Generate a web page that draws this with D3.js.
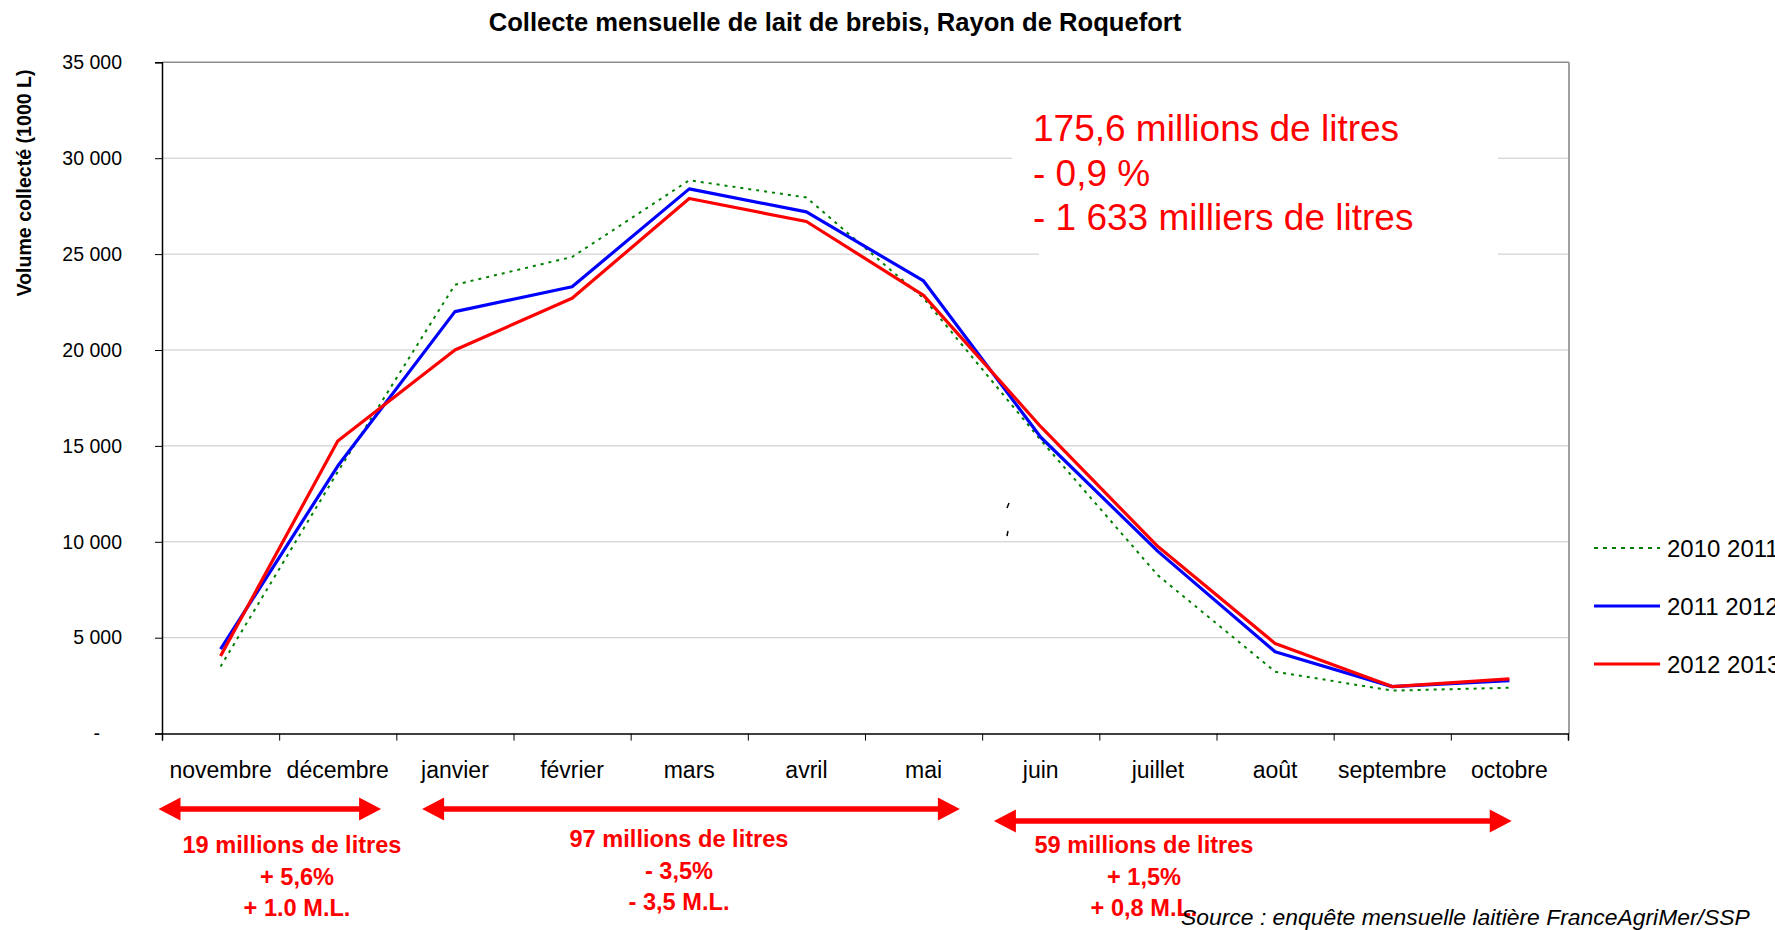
<!DOCTYPE html>
<html>
<head>
<meta charset="utf-8">
<script src="https://cdn.jsdelivr.net/npm/d3@7"></script>
<style>
  html, body { margin: 0; padding: 0; background: #fff; overflow: hidden; }
  text { font-family: "Liberation Sans", Arial, sans-serif; }
</style>
</head>
<body>
<div id="container"></div>
<script>
"use strict";

const months = ["novembre", "décembre", "janvier", "février", "mars", "avril",
  "mai", "juin", "juillet", "août", "septembre", "octobre"];
const seriesNames = ["2010 2011", "2011 2012", "2012 2013"];
const values2010 = [3500, 13650, 23400, 24850, 28850, 27950, 22700, 15300, 8250, 3230, 2240, 2390];
const values2011 = [4400, 13950, 22000, 23300, 28400, 27200, 23600, 15450, 9500, 4270, 2450, 2760];
const values2012 = [4050, 15250, 20000, 22700, 27900, 26700, 22850, 16000, 9750, 4700, 2450, 2850];
const yTicks = [0, 5000, 10000, 15000, 20000, 25000, 30000, 35000];
const yTickLabels = ["-", "5 000", "10 000", "15 000", "20 000", "25 000", "30 000", "35 000"];
const totalLines = ["175,6 millions de litres", "- 0,9 %", "- 1 633 milliers de litres"];
const periodLines = [
  ["19 millions de litres", "+ 5,6%", "+ 1.0 M.L."],
  ["97 millions de litres", "- 3,5%", "- 3,5 M.L."],
  ["59 millions de litres", "+ 1,5%", "+ 0,8 M.L."]
];

const width = 1775;
const height = 930;
const plot = { left: 162, right: 1568, top: 62.3, bottom: 733.6 };
const red = "#ff0000";

const svg = d3.select("#container").append("svg")
  .attr("width", width).attr("height", height);
svg.append("rect").attr("width", width).attr("height", height).attr("fill", "#fff");

const x = d3.scaleBand().domain(months).range([plot.left, plot.right]).padding(0);
const xEdge = d3.scaleLinear().domain([0, months.length]).range([plot.left, plot.right]);
const y = d3.scaleLinear().domain([0, 35000]).range([plot.bottom, plot.top]);

// Grid lines.
svg.append("g")
  .selectAll("line")
  .data(yTicks.slice(1, -1))
  .join("line")
  .attr("x1", plot.left).attr("x2", plot.right)
  .attr("y1", (d) => y(d)).attr("y2", (d) => y(d))
  .attr("stroke", "#c8c8c8").attr("stroke-width", 1);

// Plot frame (top and right).
svg.append("path")
  .attr("d", `M${plot.left},${plot.top}H${plot.right + 1}`)
  .attr("stroke", "#8c8c8c").attr("stroke-width", 1.5);
svg.append("path")
  .attr("d", `M${plot.right + 1},${plot.top}V${plot.bottom}`)
  .attr("stroke", "#a0a0a0").attr("stroke-width", 2);

// White box behind the total annotation hides the grid.
svg.append("rect").attr("x", 1012).attr("y", 150).attr("width", 486).attr("height", 52).attr("fill", "#fff");
svg.append("rect").attr("x", 1039).attr("y", 200).attr("width", 459).attr("height", 62).attr("fill", "#fff");

// Y axis.
const yAxis = svg.append("g")
  .attr("transform", `translate(${plot.left},0)`)
  .call(d3.axisLeft(y).tickValues(yTicks).tickFormat((d, i) => yTickLabels[i]).tickSize(7).tickPadding(33))
  .call((g) => g.select(".domain").attr("stroke", "#000").attr("stroke-width", 1.5));
yAxis.selectAll("text")
  .style("font-family", '"Liberation Sans", Arial, sans-serif')
  .style("font-size", "19.5px")
  .attr("fill", "#000");
yAxis.selectAll(".tick").filter((d) => d === 0).select("text").attr("x", -62);

// X axis: labels at band centres, tick marks on band edges.
const xAxis = svg.append("g")
  .attr("transform", `translate(0,${plot.bottom})`)
  .call(d3.axisBottom(x).tickSize(0).tickPadding(28))
  .call((g) => g.select(".domain").remove());
xAxis.selectAll("text")
  .style("font-family", '"Liberation Sans", Arial, sans-serif')
  .style("font-size", "23px")
  .attr("fill", "#000");

svg.append("g")
  .attr("transform", `translate(0,${plot.bottom})`)
  .call(d3.axisBottom(xEdge).tickValues(d3.range(0, months.length + 1)).tickFormat("").tickSize(7).tickSizeOuter(7))
  .call((g) => g.select(".domain").attr("stroke", "#000").attr("stroke-width", 1.5));

// Lines.
const series = [
  { name: seriesNames[0], values: values2010, color: "#008000", width: 2, dash: "3 5" },
  { name: seriesNames[1], values: values2011, color: "#0000ff", width: 3.2, dash: null },
  { name: seriesNames[2], values: values2012, color: red, width: 3.2, dash: null }
];

const line = d3.line()
  .x((d, i) => x(months[i]) + x.bandwidth() / 2)
  .y((d) => y(d));

svg.append("g")
  .selectAll("path")
  .data(series)
  .join("path")
  .attr("d", (s) => line(s.values))
  .attr("fill", "none")
  .attr("stroke", (s) => s.color)
  .attr("stroke-width", (s) => s.width)
  .attr("stroke-dasharray", (s) => s.dash)
  .attr("stroke-linejoin", "round");

// Legend.
const legend = svg.append("g")
  .selectAll("g")
  .data(series)
  .join("g")
  .attr("transform", (s, i) => `translate(1594,${548 + i * 58})`);
legend.append("line")
  .attr("x1", 0).attr("x2", 66)
  .attr("stroke", (s) => s.color)
  .attr("stroke-width", (s) => s.width)
  .attr("stroke-dasharray", (s) => (s.dash ? "4 5" : null));
legend.append("text")
  .attr("x", 73).attr("y", 9)
  .style("font-size", "24px")
  .text((s) => s.name);

// Title and axis title.
svg.append("text")
  .attr("x", 835).attr("y", 31)
  .attr("text-anchor", "middle")
  .style("font-size", "25.6px").style("font-weight", "bold")
  .text("Collecte mensuelle de lait de brebis, Rayon de Roquefort");

svg.append("text")
  .attr("transform", "translate(31,183) rotate(-90)")
  .attr("text-anchor", "middle")
  .style("font-size", "19.6px").style("font-weight", "bold")
  .text("Volume collecté (1000 L)");

// Total annotation.
svg.append("g")
  .selectAll("text")
  .data(totalLines)
  .join("text")
  .attr("x", 1033)
  .attr("y", (d, i) => 141 + i * 44.5)
  .attr("fill", red)
  .style("font-size", "37px")
  .text((d) => d);

// Stray marks left from a text box.
svg.append("path")
  .attr("d", "M1009,503l-2,5M1008,531l-1,5")
  .attr("stroke", "#000").attr("stroke-width", 1.5);

// Period arrows.
const arrows = [
  { from: -0.03, to: 1.87, y: 809, cx: 292, base: 853 },
  { from: 2.22, to: 6.81, y: 809, cx: 679, base: 847 },
  { from: 7.1, to: 11.52, y: 821, cx: 1144, base: 853 }
];

function arrowPath(x1, x2, yc) {
  const head = 22, half = 11.5, shaft = 2.8;
  return `M${x1},${yc}L${x1 + head},${yc - half}V${yc - shaft}H${x2 - head}V${yc - half}` +
    `L${x2},${yc}L${x2 - head},${yc + half}V${yc + shaft}H${x1 + head}V${yc + half}Z`;
}

svg.append("g")
  .selectAll("path")
  .data(arrows)
  .join("path")
  .attr("d", (a) => arrowPath(xEdge(a.from), xEdge(a.to), a.y))
  .attr("fill", red);

const blocks = svg.append("g")
  .selectAll("g")
  .data(arrows)
  .join("g");
blocks.selectAll("text")
  .data((a, i) => periodLines[i].map((t, j) => ({ t, j, a })))
  .join("text")
  .attr("x", (d) => d.a.cx + (d.j > 0 && d.a.cx < 400 ? 5 : 0))
  .attr("y", (d) => d.a.base + d.j * 31.5)
  .attr("text-anchor", "middle")
  .attr("fill", red)
  .style("font-size", "23.6px").style("font-weight", "bold")
  .text((d) => d.t);

// Source.
svg.append("text")
  .attr("x", 1181).attr("y", 925)
  .style("font-size", "22.9px").style("font-style", "italic")
  .text("Source : enquête mensuelle laitière FranceAgriMer/SSP");
</script>
</body>
</html>
